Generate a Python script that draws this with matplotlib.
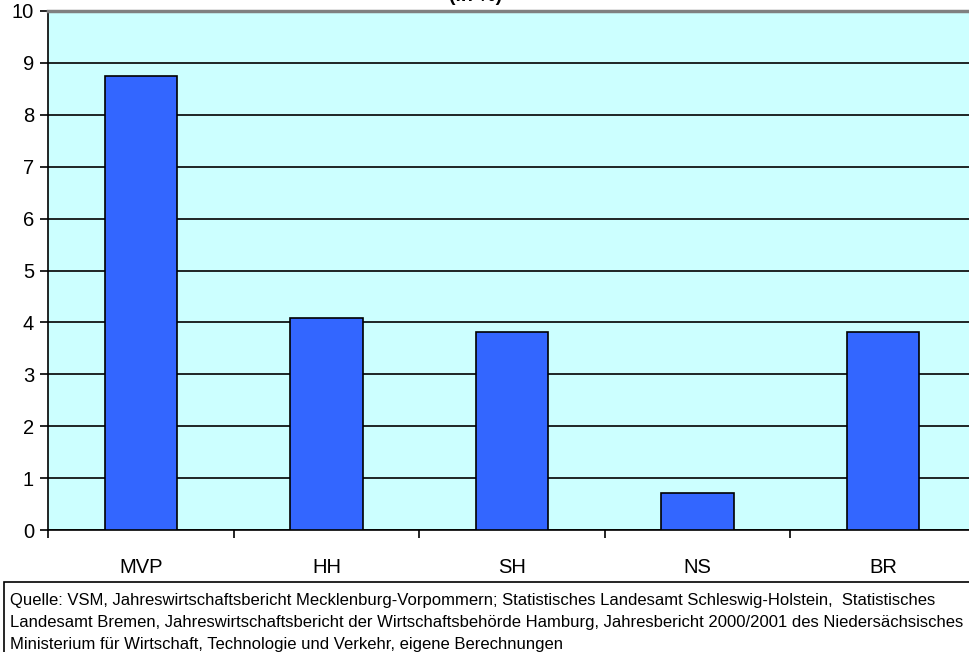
import matplotlib
matplotlib.use('Agg')
import matplotlib.pyplot as plt
from matplotlib.patches import Rectangle

plt.rcParams['font.family'] = ['Liberation Sans', 'DejaVu Sans']

# Daten
laender = ['MVP', 'HH', 'SH', 'NS', 'BR']
werte = [8.75, 4.09, 3.82, 0.71, 3.82]
y_ticks = list(range(0, 11))
quelle = ("Quelle: VSM, Jahreswirtschaftsbericht Mecklenburg-Vorpommern; Statistisches Landesamt Schleswig-Holstein,  Statistisches\n"
          "Landesamt Bremen, Jahreswirtschaftsbericht der Wirtschaftsbehörde Hamburg, Jahresbericht 2000/2001 des Niedersächsisches\n"
          "Ministerium für Wirtschaft, Technologie und Verkehr, eigene Berechnungen")

W, H = 970, 652
fig = plt.figure(figsize=(W / 100, H / 100), dpi=100)
ax = fig.add_axes([48 / W, (H - 530) / H, (976 - 48) / W, (530 - 11) / H])
ax.set_facecolor('#CCFFFF')

x = range(len(laender))
ax.bar(x, werte, width=0.39, color='#3366FF', edgecolor='black', linewidth=1.2, zorder=3)

ax.set_xlim(-0.5, len(laender) - 0.5)
ax.set_ylim(0, 10)
ax.set_yticks(y_ticks)
ax.set_yticklabels([str(t) for t in y_ticks], fontsize=14.5)
ax.yaxis.grid(True, color='black', linewidth=1.2, zorder=1)
ax.set_axisbelow(True)

ax.set_xticks(list(x))
ax.set_xticklabels(laender, fontsize=14.5)
ax.tick_params(axis='x', which='major', length=0, pad=20)
ax.set_xticks([i + 0.5 for i in range(-1, len(laender))], minor=True)
ax.tick_params(axis='x', which='minor', length=6, width=1.2, direction='out')
ax.tick_params(axis='y', length=6, width=1.2, pad=4)

ax.spines['right'].set_visible(False)
ax.spines['left'].set_linewidth(1.2)
ax.spines['bottom'].set_linewidth(1.2)
ax.spines['top'].set_color('#808080')
ax.spines['top'].set_linewidth(2.5)

# Titel (oben abgeschnitten)
fig.text(0.49, 1 - 1 / H, '(in %)', ha='center', va='baseline', fontsize=14, fontweight='bold')

# Quellenkasten
fig.patches.append(Rectangle((4 / W, -0.05), 1.0, (H - 582) / H + 0.05, transform=fig.transFigure,
                             facecolor='white', edgecolor='black', linewidth=1.2))
fig.text(10 / W, 1 - 593 / H, quelle, ha='left', va='top', fontsize=12,
         linespacing=1.6)

fig.savefig('out.png', dpi=100)
